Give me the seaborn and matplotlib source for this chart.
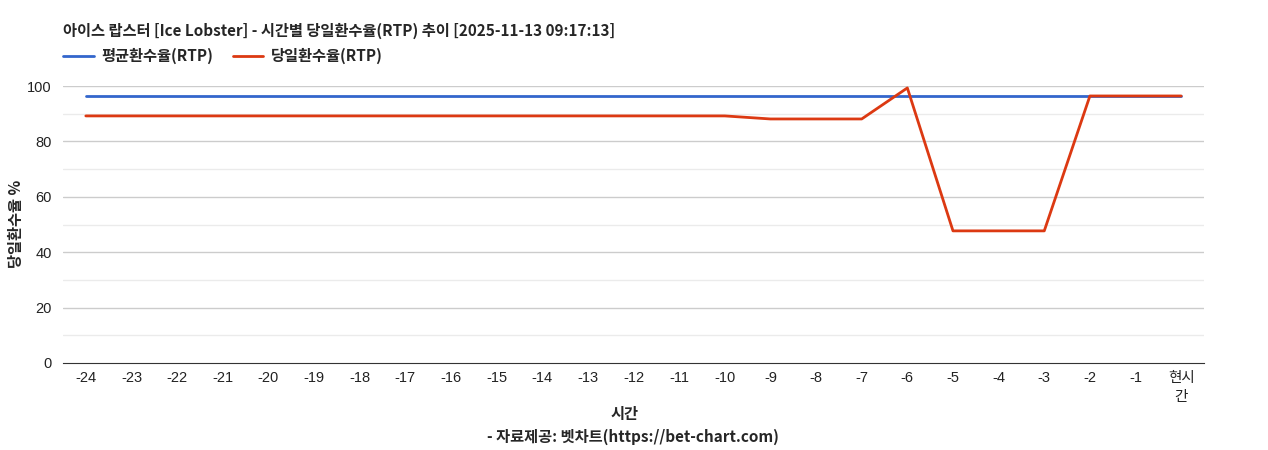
import pandas as pd
import matplotlib.pyplot as plt
import seaborn as sns

sns.set_style("white")
plt.rcParams["font.family"] = ["Noto Sans CJK KR", "DejaVu Sans"]

hours = ["-24", "-23", "-22", "-21", "-20", "-19", "-18", "-17", "-16", "-15",
         "-14", "-13", "-12", "-11", "-10", "-9", "-8", "-7", "-6", "-5",
         "-4", "-3", "-2", "-1", "현시\n간"]
avg_rtp = [96.4] * 25
day_rtp = [89.2, 89.2, 89.2, 89.2, 89.2, 89.2, 89.2, 89.2, 89.2, 89.2,
           89.2, 89.2, 89.2, 89.2, 89.2, 88.1, 88.1, 88.1, 99.3, 47.7,
           47.7, 47.7, 96.4, 96.4, 96.4]

df = pd.DataFrame({"pos": range(len(hours)), "avg": avg_rtp, "day": day_rtp})

tick_font = ["Liberation Sans", "Noto Sans CJK KR"]

fig = plt.figure(figsize=(12.68, 4.5), dpi=100)
ax = fig.add_axes([63 / 1268, 1 - 363 / 450, (1204 - 63) / 1268, (363 - 86) / 450])

for v in [10, 30, 50, 70, 90]:
    ax.axhline(v, color="#ebebeb", lw=1, zorder=0)
for v in [20, 40, 60, 80, 100]:
    ax.axhline(v, color="#cccccc", lw=1, zorder=0)

sns.lineplot(data=df, x="pos", y="avg", ax=ax, color="#3366cc", lw=2, label="평균환수율(RTP)")
sns.lineplot(data=df, x="pos", y="day", ax=ax, color="#dc3912", lw=2, label="당일환수율(RTP)")

ax.set_xlim(-0.5, len(hours) - 0.5)
ax.set_ylim(0, 100)
ax.set_xticks(range(len(hours)))
ax.set_xticklabels(hours, fontsize=10.5, color="#222222", va="top", family=tick_font,
                   linespacing=1.45)
ax.set_yticks([0, 20, 40, 60, 80, 100])
ax.set_yticklabels([str(v) for v in [0, 20, 40, 60, 80, 100]], fontsize=10.5,
                   color="#222222", family=tick_font)
ax.tick_params(axis="y", length=0, pad=8)
ax.tick_params(axis="x", length=0, pad=6)
for s in ["top", "right", "left"]:
    ax.spines[s].set_visible(False)
ax.spines["bottom"].set_color("#333333")

ax.set_xlabel("시간", fontsize=11, fontweight="bold")
ax.xaxis.set_label_coords((625 - 63) / 1141, -(414 - 363) / 277)
ax.set_ylabel("당일환수율 %", fontsize=11, fontweight="bold")
ax.yaxis.set_label_coords(-(63 - 16) / 1141, (363 - 224) / 277)
ax.xaxis.label.set_va("center")
ax.yaxis.label.set_va("center")

fig.text(63 / 1268, 1 - 31 / 450, "아이스 랍스터 [Ice Lobster] - 시간별 당일환수율(RTP) 추이 [2025-11-13 09:17:13]",
         fontsize=11, fontweight="bold", va="center", ha="left")
fig.text(633 / 1268, 1 - 437 / 450, "- 자료제공: 벳차트(https://bet-chart.com)",
         fontsize=11, fontweight="bold", va="center", ha="center")

ax.legend(loc="center left", bbox_to_anchor=(0, 1 + (86 - 56) / 277), ncol=2, frameon=False,
          handlelength=2.0, handletextpad=0.5, columnspacing=1.3, borderaxespad=0,
          borderpad=0, prop={"weight": "bold", "size": 11})

fig.savefig("out.png", dpi=100)
